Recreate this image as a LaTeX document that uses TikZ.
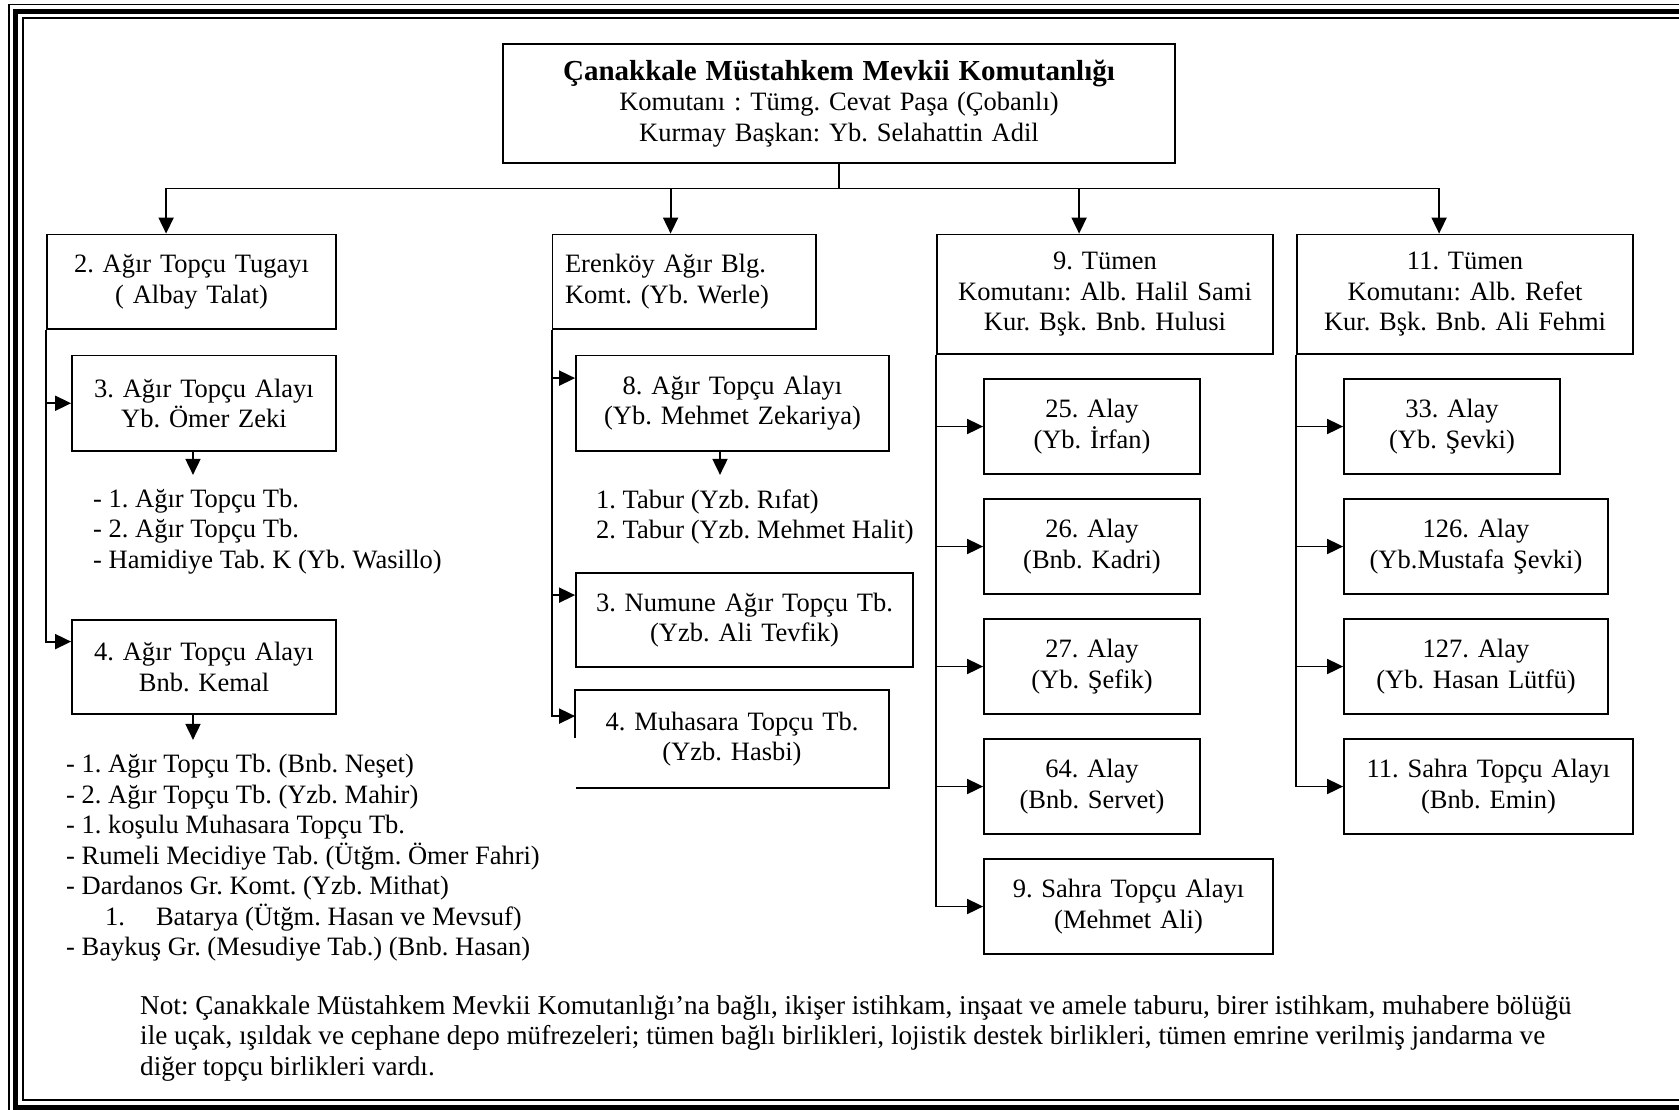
\documentclass[tikz,border=0pt]{standalone}
\usepackage{fontspec}
\setmainfont{Liberation Serif}
\usetikzlibrary{arrows.meta,calc}
\frenchspacing

\tikzset{
  unit/.style={draw, line width=1.8pt, inner xsep=0pt, inner ysep=0pt, align=center,
    font=\fontsize{26.5}{30.5}\selectfont},
  list/.style={inner sep=0pt, align=left, anchor=west, font=\fontsize{26.5}{30.5}\selectfont},
  conn/.style={line width=1.8pt},
  arr/.style={conn, -{Triangle[length=16pt,width=15pt]}},
}

\begin{document}
\begin{tikzpicture}[x=1pt, y=-1pt]
        \useasboundingbox (0,0) rectangle (1679,1109);
        \clip (0,0) rectangle (1679,1109);

        % Page border.
        \draw[line width=1.5pt] (9,4.5) rectangle (1700,1130);
        \draw[line width=5pt] (15.5,11) rectangle (1693,1107);
        \draw[line width=1.5pt] (23,18) rectangle (1686,1100);

        % Command.
        \node[unit, text width=672pt, minimum height=119pt] (top) at (839,103.5)
            {{\bfseries\fontsize{29}{31}\selectfont Çanakkale Müstahkem Mevkii Komutanlığı}\\
             Komutanı : Tümg. Cevat Paşa (Çobanlı)\\Kurmay Başkan: Yb. Selahattin Adil};

        \node[unit, text width=289pt, minimum height=94.5pt] (b1) at (191.5,281.75)
            {2. Ağır Topçu Tugayı\\( Albay Talat)};
        \node[unit, text width=238.5pt, inner xsep=12.5pt, align=left, minimum height=94.5pt] (b2) at (684.25,281.75)
            {Erenköy Ağır Blg.\\Komt. (Yb. Werle)};
        \node[unit, text width=336pt, minimum height=119.5pt] (b3) at (1105,294.25)
            {9. Tümen\\Komutanı: Alb. Halil Sami\\Kur. Bşk. Bnb. Hulusi};
        \node[unit, text width=336pt, minimum height=119.5pt] (b4) at (1465,294.25)
            {11. Tümen\\Komutanı: Alb. Refet\\Kur. Bşk. Bnb. Ali Fehmi};

        \coordinate (bus) at ($(top.south)+(0,24.5)$);
        \draw[conn] (top.south) -- (bus);
        \foreach \n/\d in {b1/120, b2/119, b3/143, b4/143}
            \draw[arr] (bus) -| ([xshift=\d pt]\n.north west);

        % 2. Agir Topcu Tugayi.
        \node[unit, text width=264pt, minimum height=95.5pt] (a3) at (204,403.25)
            {3. Ağır Topçu Alayı\\Yb. Ömer Zeki};
        \node[unit, text width=264pt, minimum height=94pt] (a4) at (204,667)
            {4. Ağır Topçu Alayı\\Bnb. Kemal};
        \coordinate (a4in) at ([yshift=-22.5pt]a4.north west);
        \draw[arr] (b1.south west) |- (a4in);
        \draw[arr] (b1.south west |- a3.west) -- (a3.west);

        \node[list] (l3) at (93,531.5)
            {- 1. Ağır Topçu Tb.\\- 2. Ağır Topçu Tb.\\- Hamidiye Tab. K (Yb. Wasillo)};
        \node[list] (l4) at (66,858)
            {- 1. Ağır Topçu Tb. (Bnb. Neşet)\\- 2. Ağır Topçu Tb. (Yzb. Mahir)\\
             - 1. koşulu Muhasara Topçu Tb.\\- Rumeli Mecidiye Tab. (Ütğm. Ömer Fahri)\\
             - Dardanos Gr. Komt. (Yzb. Mithat)\\
             \hspace*{39pt}1.\hspace{31pt}Batarya (Ütğm. Hasan ve Mevsuf)\\
             - Baykuş Gr. (Mesudiye Tab.) (Bnb. Hasan)};
        \coordinate (a3down) at ($(a3.south)+(-11,23)$);
        \coordinate (a4down) at ($(a4.south)+(-11,25)$);
        \draw[arr] (a3.south -| a3down) -- (a3down);
        \draw[arr] (a4.south -| a4down) -- (a4down);

        % Erenkoy.
        \node[unit, text width=313pt, minimum height=95.5pt] (a8) at (732.5,403.25)
            {8. Ağır Topçu Alayı\\(Yb. Mehmet Zekariya)};
        \node[unit, text width=337pt, minimum height=94pt] (t3) at (744.5,620)
            {3. Numune Ağır Topçu Tb.\\(Yzb. Ali Tevfik)};
        \node[unit, draw=none, text width=312pt, minimum height=96pt] (t4) at (732,739)
            {4. Muhasara Topçu Tb.\\(Yzb. Hasbi)};
        \draw[conn] ([yshift=-48pt]t4.north west) -- (t4.north west) -- (t4.north east)
            -- (t4.south east) -- ([xshift=1pt]t4.south west);
        \node[list] (l8) at (596,517) {1. Tabur (Yzb. Rıfat)\\2. Tabur (Yzb. Mehmet Halit)};

        \coordinate (a8in) at ([yshift=-23.5pt]a8.north west);
        \coordinate (t3in) at ([yshift=-23pt]t3.north west);
        \coordinate (t4in) at ([yshift=-26pt]t4.north west);
        \draw[arr] (b2.south west) |- (t4in);
        \draw[arr] (b2.south west |- a8in) -- (a8in);
        \draw[arr] (b2.south west |- t3in) -- (t3in);
        \coordinate (a8down) at ($(a8.south)+(-12.5,23)$);
        \draw[arr] (a8.south -| a8down) -- (a8down);

        % 9. Tumen.
        \foreach \n/\y/\t in {r25/426.5/{25. Alay\\(Yb. İrfan)}, r26/546.5/{26. Alay\\(Bnb. Kadri)},
                              r27/666.5/{27. Alay\\(Yb. Şefik)}, r64/786.5/{64. Alay\\(Bnb. Servet)}}
            \node[unit, text width=216pt, minimum height=95pt] (\n) at (1092,\y) {\t};
        \node[unit, text width=289pt, minimum height=95pt] (s9) at (1128.5,906.5)
            {9. Sahra Topçu Alayı\\(Mehmet Ali)};
        \draw[arr] (b3.south west) |- (s9.west);
        \foreach \n in {r25,r26,r27,r64}
            \draw[arr] (b3.south west |- \n.west) -- (\n.west);

        % 11. Tumen.
        \node[unit, text width=216pt, minimum height=95pt] (r33) at (1452,426.5) {33. Alay\\(Yb. Şevki)};
        \node[unit, text width=264pt, minimum height=95pt] (r126) at (1476,546.5) {126. Alay\\(Yb.Mustafa Şevki)};
        \node[unit, text width=264pt, minimum height=95pt] (r127) at (1476,666.5) {127. Alay\\(Yb. Hasan Lütfü)};
        \node[unit, text width=289pt, minimum height=95pt] (s11) at (1488.5,786.5)
            {11. Sahra Topçu Alayı\\(Bnb. Emin)};
        \draw[arr] (b4.south west) |- (s11.west);
        \foreach \n in {r33,r126,r127}
            \draw[arr] (b4.south west |- \n.west) -- (\n.west);

        % Note.
        \node[list, font=\fontsize{27.2}{30.5}\selectfont] (note) at (140,1038)
            {Not: Çanakkale Müstahkem Mevkii Komutanlığı’na bağlı, ikişer istihkam, inşaat ve amele taburu, birer istihkam, muhabere bölüğü\\
             ile uçak, ışıldak ve cephane depo müfrezeleri; tümen bağlı birlikleri, lojistik destek birlikleri, tümen emrine verilmiş jandarma ve\\
             diğer topçu birlikleri vardı.};
\end{tikzpicture}
\end{document}
